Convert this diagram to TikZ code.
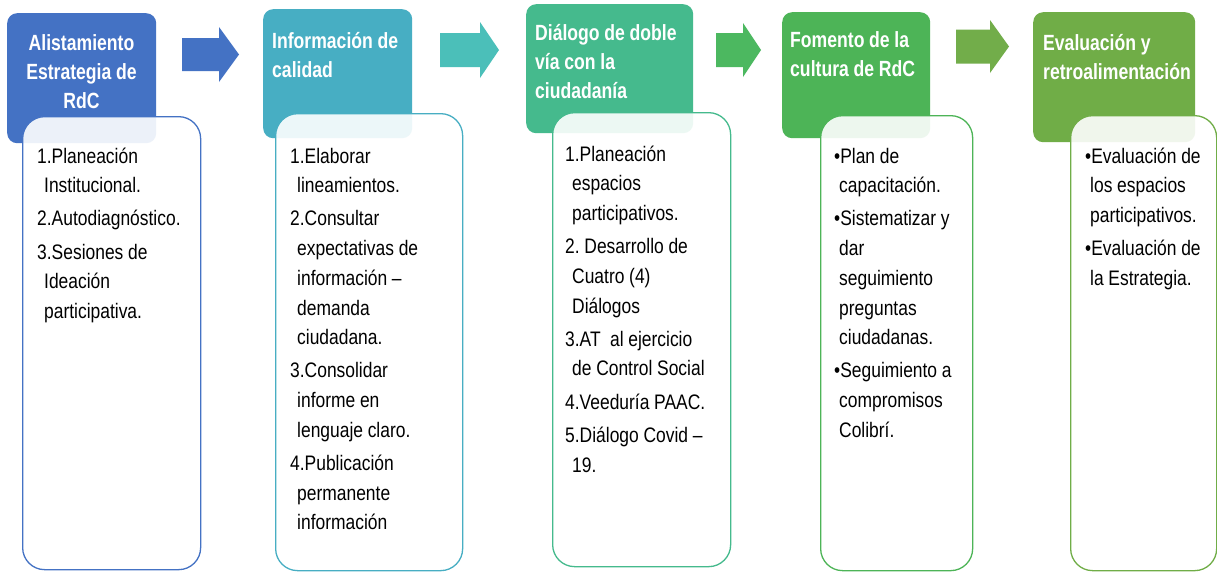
\documentclass[tikz,border=0pt]{standalone}
\usepackage{fontspec}
\setmainfont{Liberation Sans}[FakeStretch=0.83]
\newfontfamily\hdfont{Liberation Sans}[FakeStretch=0.8]
\definecolor{cA}{HTML}{4472C4}
\definecolor{cB}{HTML}{47AEC3}
\definecolor{cC}{HTML}{45BA8D}
\definecolor{cD}{HTML}{4DB457}
\definecolor{cE}{HTML}{70AD47}
\definecolor{aB}{HTML}{4BBFB9}
\definecolor{aC}{HTML}{4CB860}
\definecolor{aD}{HTML}{72AD4A}
\newcommand{\hind}{\hspace*{7pt}}
\newcommand{\bind}{\hspace*{5pt}}
\newcommand{\blkarrow}[7]{%
  \fill[#1] (#2,{#5-#6}) -- (#3,{#5-#6}) -- (#3,{#5-#7}) -- (#4,#5) -- (#3,{#5+#7}) -- (#3,{#5+#6}) -- (#2,{#5+#6}) -- cycle;}
\newcommand{\hdfontsel}{\hdfont\bfseries\fontsize{22}{29}\selectfont}
\newcommand{\bdfontsel}{\fontsize{21}{29.7}\selectfont}
\newcommand{\tightsp}{\spaceskip=4.7pt\relax\xspaceskip=4.7pt\relax}
\begin{document}
\begin{tikzpicture}[x=1pt,y=-1pt,
  hdrbox/.style={fill=#1, draw=none, rounded corners=10pt, inner sep=0pt, anchor=north west},
  bodybox/.style={draw=#1, line width=1.3pt, fill=white, fill opacity=0.9, rounded corners=22pt, inner sep=0pt, anchor=north west},
  hdrtext/.style={text=white, font=\hdfontsel, inner sep=0pt, anchor=base west, text width=180pt, align=left},
  bodytext/.style={text=black, font=\bdfontsel, inner sep=0pt, anchor=base west, text width=200pt, align=left}]
\useasboundingbox (0,0) rectangle (1217,571);
\fill[white] (0,0) rectangle (1217,571);

% headers
\node[hdrbox=cA, minimum width=149pt, minimum height=130pt] (h1) at (7,13) {};
\node[hdrbox=cB, minimum width=149pt, minimum height=129pt] (h2) at (263,9) {};
\node[hdrbox=cC, minimum width=167pt, minimum height=129pt] (h3) at (526,4) {};
\node[hdrbox=cD, minimum width=148pt, minimum height=126pt] (h4) at (782,12) {};
\node[hdrbox=cE, minimum width=162pt, minimum height=130pt] (h5) at (1033,12) {};

% block arrows
\blkarrow{cA}{182}{219}{239}{54.5}{16.5}{27.5}
\blkarrow{aB}{440}{480}{499}{50}{17}{28}
\blkarrow{aC}{716}{743}{761}{50}{17}{27}
\blkarrow{aD}{956}{990}{1009}{46.5}{17}{26.5}

% header texts
\node[hdrtext, anchor=base, align=center, text width=149pt] (t1) at (81.5,50) {\tightsp Alistamiento\\Estrategia de\\RdC};
\node[hdrtext] (t2) at (272,48) {\tightsp Información de\\calidad};
\node[hdrtext] (t3) at (535,40) {\tightsp Diálogo de doble\\vía con la\\ciudadanía};
\node[hdrtext] (t4) at (790,47) {\tightsp Fomento de la\\cultura de RdC};
\node[hdrtext] (t5) at (1043,50) {\tightsp Evaluación y\\retroalimentación};

% bodies
\node[bodybox=cA, minimum width=178pt, minimum height=453pt] (b1) at (22,116) {};
\node[bodybox=cB, minimum width=187pt, minimum height=457pt] (b2) at (275,113) {};
\node[bodybox=cC, minimum width=178pt, minimum height=454pt] (b3) at (552,112) {};
\node[bodybox=cD, minimum width=152pt, minimum height=455pt] (b4) at (820,115) {};
\node[bodybox=cE, minimum width=146pt, minimum height=455pt] (b5) at (1070,115) {};

% body texts
\node[bodytext] (l1) at (37,163) {\tightsp 1.Planeación\\
\hind Institucional.\\[3.5pt]
2.Autodiagnóstico.\\[3.5pt]
3.Sesiones de\\
\hind Ideación\\
\hind participativa.};

\node[bodytext] (l2) at (290,163) {\tightsp 1.Elaborar\\
\hind lineamientos.\\[3.5pt]
2.Consultar\\
\hind expectativas de\\
\hind información –\\
\hind demanda\\
\hind ciudadana.\\[3.5pt]
3.Consolidar\\
\hind informe en\\
\hind lenguaje claro.\\[3.5pt]
4.Publicación\\
\hind permanente\\
\hind información};

\node[bodytext] (l3) at (565,161) {\tightsp 1.Planeación\\
\hind espacios\\
\hind participativos.\\[3.5pt]
2. Desarrollo de\\
\hind Cuatro (4)\\
\hind Diálogos\\[3.5pt]
3.AT~~al ejercicio\\
\hind de Control Social\\[3.5pt]
4.Veeduría PAAC.\\[3.5pt]
5.Diálogo Covid –\\
\hind 19.};

\node[bodytext] (l4) at (834,163) {\tightsp •Plan de\\
\bind capacitación.\\[3.5pt]
•Sistematizar y\\
\bind dar\\
\bind seguimiento\\
\bind preguntas\\
\bind ciudadanas.\\[3.5pt]
•Seguimiento a\\
\bind compromisos\\
\bind Colibrí.};

\node[bodytext] (l5) at (1085,163) {\tightsp •Evaluación de\\
\bind los espacios\\
\bind participativos.\\[3.5pt]
•Evaluación de\\
\bind la Estrategia.};
\end{tikzpicture}
\end{document}
